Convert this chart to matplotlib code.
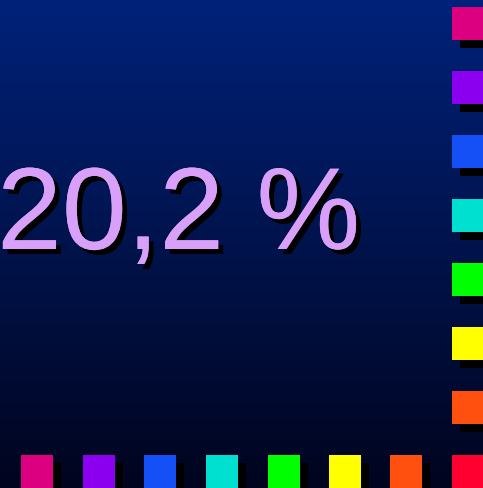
import numpy as np
import matplotlib
matplotlib.use("Agg")
import matplotlib.pyplot as plt
from matplotlib.patches import Rectangle
import matplotlib.patheffects as pe

value_label = "20,2 %"
square_colors = ["#DC0080", "#8C00F0", "#1450F5", "#00E0D0",
                 "#00FF00", "#FFFF00", "#FF5010", "#FF0030"]
right_ys = [8, 72, 136, 200, 264, 328, 392, 456]
bottom_xs = [21, 83, 144, 206, 268, 329, 390, 452]

W, H = 483, 489
fig = plt.figure(figsize=(W / 100, H / 100), dpi=100)
ax = fig.add_axes([0, 0, 1, 1])
ax.set_xlim(0, W)
ax.set_ylim(H, 0)
ax.axis("off")

# background gradient
top = np.array([0, 34, 122]) / 255
bot = np.array([0, 4, 30]) / 255
t = np.linspace(0, 1, H)[:, None, None]
grad = top * (1 - t) + bot * t
grad = np.repeat(grad, 2, axis=1)
ax.imshow(grad, extent=[0, W, H, 0], aspect="auto", zorder=0)

# squares with shadows
sz = 33
off = 8
for c, y in zip(square_colors, right_ys):
    ax.add_patch(Rectangle((452 + off, y + off), sz, sz, color="black", lw=0, zorder=1))
    ax.add_patch(Rectangle((452, y), sz, sz, color=c, lw=0, zorder=2))
for c, x in zip(square_colors, bottom_xs):
    ax.add_patch(Rectangle((x + off, 456 + off), 32, sz, color="black", lw=0, zorder=1))
    ax.add_patch(Rectangle((x, 456), 32, sz, color=c, lw=0, zorder=2))

ax.text(-3, 250, value_label, fontsize=84, family="Liberation Sans",
        color="#D8A0F8", ha="left", va="baseline", zorder=3,
        path_effects=[pe.withSimplePatchShadow(offset=(3.5, -3.5), shadow_rgbFace="black", alpha=1.0),
                      pe.Normal()])

fig.savefig("out.png", dpi=100)
